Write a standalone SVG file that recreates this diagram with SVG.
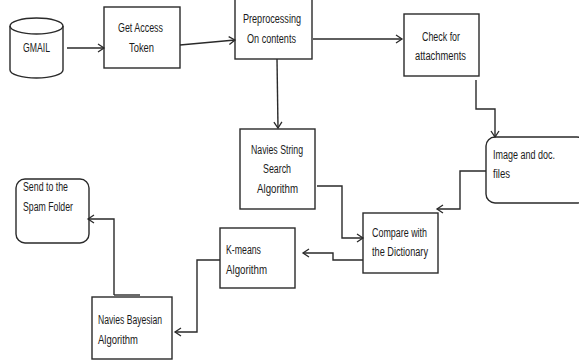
<svg xmlns="http://www.w3.org/2000/svg" width="579" height="360" viewBox="0 0 579 360">
<defs>
<style>
.box{fill:#fff;stroke:#2a2a2a;stroke-width:1.4}
.t{font-family:"Liberation Sans",Arial,sans-serif;font-size:12px;fill:#1a1a1a}
.c{fill:none;stroke:#2a2a2a;stroke-width:1.4}
</style>
<marker id="ah" markerWidth="10" markerHeight="10" refX="8" refY="5" orient="auto" markerUnits="userSpaceOnUse">
<path d="M2,1 L8,5 L2,9" fill="none" stroke="#2a2a2a" stroke-width="1.3"/>
</marker>
</defs>
<rect width="579" height="360" fill="#fff"/>
<g id="gmail">
<path class="box" d="M10,26 A26.5,8 0 0 1 63,26 L63,70 A26.5,8 0 0 1 10,70 Z"/>
<path class="c" d="M10,26 A26.5,8 0 0 0 63,26"/>
<text class="t" x="23" y="52" textLength="27" lengthAdjust="spacingAndGlyphs">GMAIL</text>
</g>
<g id="token">
<rect class="box" x="104" y="7" width="76" height="61"/>
<text class="t" x="118" y="32" textLength="45" lengthAdjust="spacingAndGlyphs">Get Access</text>
<text class="t" x="129" y="52" textLength="25" lengthAdjust="spacingAndGlyphs">Token</text>
</g>
<g id="preprocessing">
<rect class="box" x="235" y="-1" width="77" height="60"/>
<text class="t" x="243" y="23" textLength="58" lengthAdjust="spacingAndGlyphs">Preprocessing</text>
<text class="t" x="247" y="43" textLength="49" lengthAdjust="spacingAndGlyphs">On contents</text>
</g>
<g id="check">
<rect class="box" x="404" y="14" width="75" height="62"/>
<text class="t" x="422" y="41" textLength="38" lengthAdjust="spacingAndGlyphs">Check for</text>
<text class="t" x="415" y="60" textLength="51" lengthAdjust="spacingAndGlyphs">attachments</text>
</g>
<g id="image">
<rect class="box" x="486" y="137" width="100" height="66" rx="9"/>
<text class="t" x="493" y="159" textLength="62" lengthAdjust="spacingAndGlyphs">Image and doc.</text>
<text class="t" x="493" y="178" textLength="17" lengthAdjust="spacingAndGlyphs">files</text>
</g>
<g id="navies-string">
<rect class="box" x="240" y="129" width="75" height="80"/>
<text class="t" x="251" y="154" textLength="52" lengthAdjust="spacingAndGlyphs">Navies String</text>
<text class="t" x="263" y="173" textLength="28" lengthAdjust="spacingAndGlyphs">Search</text>
<text class="t" x="257" y="193" textLength="41" lengthAdjust="spacingAndGlyphs">Algorithm</text>
</g>
<g id="compare">
<rect class="box" x="363" y="213" width="75" height="60"/>
<text class="t" x="372" y="237" textLength="55" lengthAdjust="spacingAndGlyphs">Compare with</text>
<text class="t" x="372" y="256" textLength="56" lengthAdjust="spacingAndGlyphs">the Dictionary</text>
</g>
<g id="kmeans">
<rect class="box" x="220" y="228" width="75" height="60"/>
<text class="t" x="226" y="254" textLength="35" lengthAdjust="spacingAndGlyphs">K-means</text>
<text class="t" x="226" y="274" textLength="41" lengthAdjust="spacingAndGlyphs">Algorithm</text>
</g>
<g id="bayesian">
<rect class="box" x="92" y="297" width="80" height="62"/>
<text class="t" x="98" y="324" textLength="64" lengthAdjust="spacingAndGlyphs">Navies Bayesian</text>
<text class="t" x="98" y="344" textLength="40" lengthAdjust="spacingAndGlyphs">Algorithm</text>
</g>
<g id="spam">
<rect class="box" x="16" y="179" width="73" height="64" rx="9"/>
<text class="t" x="23" y="191" textLength="45" lengthAdjust="spacingAndGlyphs">Send to the</text>
<text class="t" x="23" y="211" textLength="50" lengthAdjust="spacingAndGlyphs">Spam Folder</text>
</g>
<g id="connectors">
<path class="c" d="M67,48 L104,48" marker-end="url(#ah)"/>
<path class="c" d="M180,45 L235,40" marker-end="url(#ah)"/>
<path class="c" d="M313,39 L402,39" marker-end="url(#ah)"/>
<path class="c" d="M277,59 L278,128" marker-end="url(#ah)"/>
<path class="c" d="M476,80 L476,109 L495,109 L495,137" marker-end="url(#ah)"/>
<path class="c" d="M486,171 L460,171 L460,209 L437,209" marker-end="url(#ah)"/>
<path class="c" d="M317,186 L342,186 L342,238 L363,238" marker-end="url(#ah)"/>
<path class="c" d="M363,260 L333,260 L333,253 L303,253" marker-end="url(#ah)"/>
<path class="c" d="M220,260 L197,260 L197,332 L175,332" marker-end="url(#ah)"/>
<path class="c" d="M114,295 L140,295"/>
<path class="c" d="M114,295 L114,219 L88,219" marker-end="url(#ah)"/>
</g>
</svg>
